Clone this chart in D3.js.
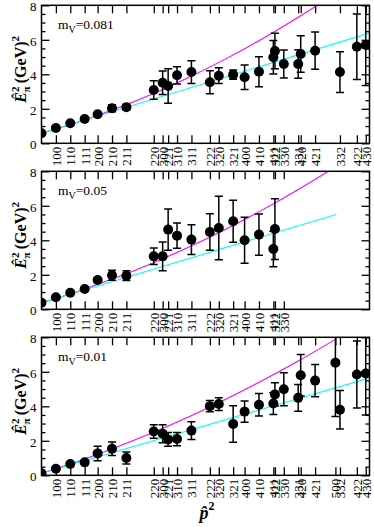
<!DOCTYPE html>
<html><head><meta charset="utf-8">
<script src="https://d3js.org/d3.v7.min.js"></script>
<style>
html,body{margin:0;padding:0;background:#fff;}
svg{display:block;}
text{font-family:"Liberation Serif","Times New Roman",serif;}
</style></head>
<body>
<script>
// momentum labels and their p-hat^2 positions (lattice units)
const momenta = ["000","100","110","111","200","210","211","220","300","221","310","311","222","320","321","400","410","411","322","330","331","420","421","500","332","422","430"];
const phat2   = [0,0.0979,0.1958,0.2937,0.3820,0.4799,0.5777,0.7639,0.8244,0.8618,0.9223,1.0202,1.1459,1.2064,1.3042,1.3820,1.4798,1.5777,1.5884,1.6489,1.7467,1.7639,1.8618,2.0000,2.0309,2.1459,2.2064];

// tick labels per panel
const ticks1 = ["100","110","111","200","210","211","220","300","221","310","311","222","320","321","400","410","411","322","330","331","420","421","332","422","430"];
const ticks2 = ["100","110","111","200","210","211","220","300","221","310","311","222","320","321","400","410","411","322","330"];
const ticks3 = ["100","110","111","200","210","211","220","300","221","310","311","222","320","321","400","410","411","322","330","331","420","421","500","332","422","430"];

// panel 1: m_V = 0.081
const mom1 = ["000","100","110","111","200","210","211","220","300","221","310","311","222","320","321","400","410","411","322","330","331","420","421","332","422","430"];
const e2_1 = [0.58,0.89,1.16,1.41,1.68,2.03,2.09,3.09,3.51,3.32,3.94,4.13,3.54,3.92,3.98,3.83,4.15,4.99,5.35,4.60,4.60,5.18,5.37,4.13,5.60,5.70];
const err1 = [0.04,0.04,0.05,0.06,0.08,0.20,0.17,0.54,0.68,1.00,0.50,0.66,0.67,0.46,0.27,0.71,0.87,0.97,1.03,0.81,0.83,1.06,1.08,1.18,1.90,2.35];
// panel 2: m_V = 0.05
const mom2 = ["000","100","110","111","200","210","211","220","300","221","310","311","222","320","321","400","410","411","322"];
const e2_2 = [0.38,0.70,0.96,1.18,1.70,1.97,1.95,3.07,3.07,4.62,4.27,4.04,4.48,4.71,5.10,4.00,4.33,3.50,4.65];
const err2 = [0.03,0.04,0.05,0.06,0.12,0.29,0.28,0.48,0.83,1.19,0.73,0.86,1.06,1.84,1.22,1.33,1.20,1.03,1.76];
// panel 3: m_V = 0.01
const mom3 = ["000","100","110","111","200","210","211","220","300","221","310","311","222","320","321","400","410","411","322","330","331","420","421","500","332","422","430"];
const e2_3 = [0.12,0.38,0.65,0.75,1.27,1.54,1.00,2.54,2.41,2.08,2.10,2.59,4.01,4.13,2.97,3.69,4.09,4.16,4.69,4.99,4.49,5.80,5.49,6.53,3.80,5.84,5.90];
const err3 = [0.03,0.04,0.05,0.06,0.42,0.39,0.35,0.39,0.52,0.40,0.38,0.52,0.33,0.37,1.06,0.62,0.65,0.63,0.67,0.96,0.78,1.20,0.93,3.12,1.12,1.94,2.40];

// cyan (straight) curves
const cyanX1 = [0, 2.235], cyanY1 = [0.58, 6.40];
const cyanX2 = [0, 2.005], cyanY2 = [0.38, 5.50];
const cyanX3 = [0, 2.235], cyanY3 = [0.12, 5.65];
// magenta (curved) read at sample points
const magX = [0,0.25,0.5,0.75,1.0,1.25,1.5,1.75,2.0];
const magY1 = [0.58,1.24,1.99,2.85,3.82,4.88,6.05,7.32,8.69];
const magY2 = [0.38,1.05,1.81,2.66,3.60,4.63,5.75,6.96,8.26];
const magY3 = [0.12,0.82,1.60,2.45,3.38,4.39,5.48,6.64,7.88];

const labels = ["0.081","0.05","0.01"];
const yMajor = [0,2,4,6,8];
const yMinor = [0.5,1,1.5,2.5,3,3.5,4.5,5,5.5,6.5,7,7.5];

const W = 374, H = 527;
const left = 41.5, right = 369.5;
const panelTops = [5.3, 171.3, 337.3], panelH = 138;

const svg = d3.select("body").append("svg").attr("width", W).attr("height", H);
const x = d3.scaleLinear().domain([0, 2.232]).range([left, right]);
const posOf = m => phat2[momenta.indexOf(m)];

const panels = [
  {mom: mom1, e2: e2_1, err: err1, ticks: ticks1, cx: cyanX1, cy: cyanY1, my: magY1},
  {mom: mom2, e2: e2_2, err: err2, ticks: ticks2, cx: cyanX2, cy: cyanY2, my: magY2},
  {mom: mom3, e2: e2_3, err: err3, ticks: ticks3, cx: cyanX3, cy: cyanY3, my: magY3}
];

panels.forEach((p, i) => {
  const top = panelTops[i], bot = top + panelH;
  const y = d3.scaleLinear().domain([0, 8]).range([bot, top]);
  const g = svg.append("g");
  const cid = "clip" + i;
  svg.append("clipPath").attr("id", cid).append("rect")
    .attr("x", left).attr("y", top).attr("width", right - left).attr("height", panelH);
  const plot = g.append("g").attr("clip-path", `url(#${cid})`);

  // lines
  const line = d3.line().x(d => x(d[0])).y(d => y(d[1]));
  plot.append("path").datum(magX.map((v, k) => [v, p.my[k]]))
    .attr("d", line.curve(d3.curveMonotoneX)).attr("fill", "none")
    .attr("stroke", "#ff00ff").attr("stroke-width", 1.1);
  plot.append("path").datum(p.cx.map((v, k) => [v, p.cy[k]]))
    .attr("d", d3.line().x(d => x(d[0])).y(d => y(d[1]))).attr("fill", "none")
    .attr("stroke", "#00ffff").attr("stroke-width", 1.1);

  // error bars
  const pts = p.mom.map((m, k) => ({x: posOf(m), v: p.e2[k], e: p.err[k]}));
  const eb = plot.append("g").attr("stroke", "#000").attr("stroke-width", 1.5);
  pts.forEach(d => {
    const cx = x(d.x);
    eb.append("line").attr("x1", cx).attr("x2", cx).attr("y1", y(d.v - d.e)).attr("y2", y(d.v + d.e));
    eb.append("line").attr("x1", cx - 4).attr("x2", cx + 4).attr("y1", y(d.v - d.e)).attr("y2", y(d.v - d.e));
    eb.append("line").attr("x1", cx - 4).attr("x2", cx + 4).attr("y1", y(d.v + d.e)).attr("y2", y(d.v + d.e));
  });
  plot.append("g").selectAll("circle").data(pts).join("circle")
    .attr("cx", d => x(d.x)).attr("cy", d => y(d.v)).attr("r", 5).attr("fill", "#000");

  // axes
  const tv = p.ticks.map(posOf);
  const nameOf = v => p.ticks[tv.indexOf(v)];
  const xb = g.append("g").attr("transform", `translate(0,${bot})`)
    .call(d3.axisBottom(x).tickValues(tv).tickSizeInner(-8).tickSizeOuter(0).tickFormat(nameOf));
  xb.selectAll("text").attr("transform", "rotate(-90)").attr("text-anchor", "end")
    .attr("x", -3.5).attr("y", 0).attr("dy", "0.35em");
  g.append("g").attr("transform", `translate(0,${top})`)
    .call(d3.axisTop(x).tickValues(tv).tickSizeInner(-8).tickSizeOuter(0).tickFormat(""));
  const yl0 = g.append("g").attr("transform", `translate(${left},0)`)
    .call(d3.axisLeft(y).tickValues(yMajor).tickSizeInner(-8).tickSizeOuter(0).tickPadding(5).tickFormat(d3.format("d")));
  g.append("g").attr("transform", `translate(${left},0)`)
    .call(d3.axisLeft(y).tickValues(yMinor).tickSizeInner(-4).tickSizeOuter(0).tickFormat(""));
  g.append("g").attr("transform", `translate(${right},0)`)
    .call(d3.axisRight(y).tickValues(yMajor).tickSizeInner(-8).tickSizeOuter(0).tickFormat(""));
  g.append("g").attr("transform", `translate(${right},0)`)
    .call(d3.axisRight(y).tickValues(yMinor).tickSizeInner(-4).tickSizeOuter(0).tickFormat(""));
  g.selectAll(".domain").remove();
  g.selectAll(".tick line").attr("stroke", "#000").attr("stroke-width", 1.3);
  g.selectAll(".tick text").attr("font-family", "Liberation Serif").attr("fill", "#000");
  xb.selectAll("text").attr("font-size", 13);
  yl0.selectAll("text").attr("font-size", 13).attr("dy", "0.4em");

  // frame
  g.append("rect").attr("x", left).attr("y", top).attr("width", right - left).attr("height", panelH)
    .attr("fill", "none").attr("stroke", "#000").attr("stroke-width", 1.5);

  // mass label
  const t = g.append("text").attr("x", 58).attr("y", top + 23.5).attr("font-size", 13.5).attr("fill", "#000");
  t.append("tspan").text("m");
  t.append("tspan").attr("font-size", 10).attr("dy", 4).text("V");
  t.append("tspan").attr("dy", -4).text("=" + labels[i]);

  // y label
  const yl = g.append("text").attr("transform", `translate(26,${(top + bot) / 2 - 5}) rotate(-90)`)
    .attr("text-anchor", "middle").attr("font-size", 16).attr("font-weight", "bold").attr("fill", "#000");
  yl.append("tspan").attr("font-style", "italic").text("Ê");
  yl.append("tspan").attr("font-size", 11).attr("dy", -7).text("2");
  yl.append("tspan").attr("font-size", 11).attr("dx", -6).attr("dy", 11).text("π");
  yl.append("tspan").attr("dy", -4).text("\u2009(GeV)");
  yl.append("tspan").attr("font-size", 11).attr("dy", -7).text("2");
});

// x axis label
const xl = svg.append("text").attr("x", 207).attr("y", 519).attr("text-anchor", "middle")
  .attr("font-size", 18).attr("font-weight", "bold").attr("fill", "#000");
xl.append("tspan").attr("font-style", "italic").text("p\u0302");
xl.append("tspan").attr("font-size", 12).attr("dy", -9).text("2");
</script>
</body></html>
